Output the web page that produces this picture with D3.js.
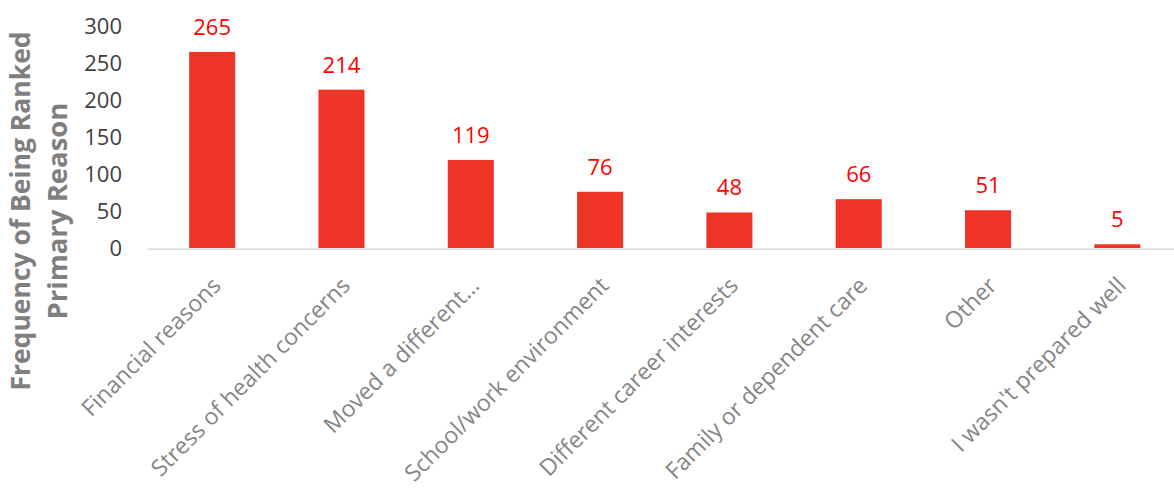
<!DOCTYPE html>
<html>
<head>
<meta charset="utf-8">
<script src="https://cdn.jsdelivr.net/npm/d3@7"></script>
<style>
  html, body { margin: 0; padding: 0; background: #ffffff; }
  svg { display: block; }
</style>
</head>
<body>
<svg id="chart" width="1174" height="490"></svg>
<script>
// Reasons and how often each was ranked the primary one
const categories = [
  "Financial reasons",
  "Stress of health concerns",
  "Moved a different…",
  "School/work environment",
  "Different career interests",
  "Family or dependent care",
  "Other",
  "I wasn't prepared well"
];
const counts = [265, 214, 119, 76, 48, 66, 51, 5];
const yTicks = [0, 50, 100, 150, 200, 250, 300];
const titleLines = ["Frequency of Being Ranked", "Primary Reason"];

const svg = d3.select("#chart");
const font = "'Open Sans', 'Noto Sans', sans-serif";

const x = d3.scaleBand()
  .domain(categories)
  .range([147.5, 1182])
  .paddingInner(0.644)
  .paddingOuter(0.322);

const y = d3.scaleLinear()
  .domain([0, 300])
  .range([248, 26]);

// baseline
svg.append("line")
  .attr("x1", 147.5).attr("x2", 1174)
  .attr("y1", y(0) + 1.2).attr("y2", y(0) + 1.2)
  .attr("stroke", "#d9d9d9")
  .attr("stroke-width", 1.6);

// value axis tick labels
svg.append("g")
  .selectAll("text")
  .data(yTicks)
  .join("text")
  .attr("x", 122)
  .attr("y", d => y(d))
  .attr("dy", "0.36em")
  .attr("text-anchor", "end")
  .attr("font-family", font)
  .attr("font-size", 22)
  .attr("fill", "#404040")
  .text(d => d);

// bars
svg.append("g")
  .selectAll("rect")
  .data(counts)
  .join("rect")
  .attr("x", (d, i) => x(categories[i]))
  .attr("width", x.bandwidth())
  .attr("y", d => y(d))
  .attr("height", d => y(0) - y(d))
  .attr("fill", "#ee3426");

// value labels
svg.append("g")
  .selectAll("text")
  .data(counts)
  .join("text")
  .attr("x", (d, i) => x(categories[i]) + x.bandwidth() / 2)
  .attr("y", d => y(d) - 25)
  .attr("dy", "0.36em")
  .attr("text-anchor", "middle")
  .attr("font-family", font)
  .attr("font-size", 22)
  .attr("fill", "#ff0000")
  .text(d => d);

// rotated category labels
svg.append("g")
  .selectAll("text")
  .data(categories)
  .join("text")
  .attr("transform", d => `translate(${x(d) + x.bandwidth() / 2 + 10},287) rotate(-45)`)
  .attr("text-anchor", "end")
  .attr("font-family", font)
  .attr("font-size", 23)
  .attr("fill", "#858585")
  .text(d => d);

// value axis title, two rotated lines
const titlePos = [[30, 211], [67, 211]];
const titleSize = [26.5, 27.5];
svg.append("g")
  .selectAll("text")
  .data(titleLines)
  .join("text")
  .attr("transform", (d, i) => `translate(${titlePos[i][0]},${titlePos[i][1]}) rotate(-90)`)
  .attr("text-anchor", "middle")
  .attr("font-family", font)
  .attr("font-weight", "bold")
  .attr("font-size", (d, i) => titleSize[i])
  .attr("fill", "#7f7f7f")
  .text(d => d);
</script>
</body>
</html>
